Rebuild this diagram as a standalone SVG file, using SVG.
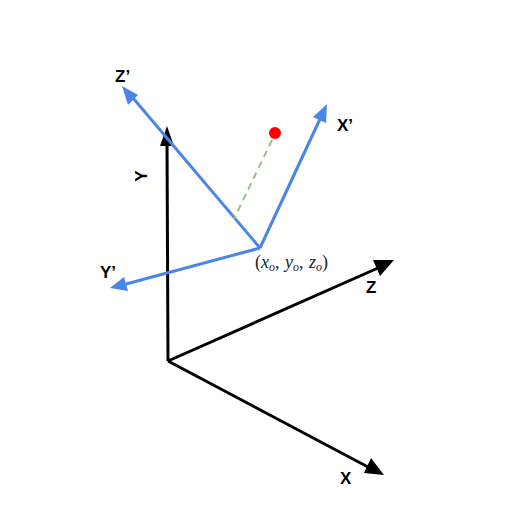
<svg xmlns="http://www.w3.org/2000/svg" width="512" height="512" viewBox="0 0 512 512">
<style>
.ax{stroke:#000;stroke-width:3;fill:none}
.bx{stroke:#4a86e8;stroke-width:3;fill:none}
.lbl{font-family:"Liberation Sans",Arial,sans-serif;font-weight:bold;font-size:17px;fill:#000}
.math{font-family:"Liberation Serif","Times New Roman",serif;font-size:18px;fill:#222}
.sub{font-size:12px;font-style:italic}
</style>
<rect width="512" height="512" fill="#fff"/>
<g id="connectors">
<line class="ax" x1="168" y1="361" x2="167" y2="140"/>
<polygon points="167,126 160,146 174,146" fill="#000"/>
<line class="ax" x1="168" y1="361" x2="378" y2="268"/>
<polygon points="394,260 373,260 380,276" fill="#000"/>
<line class="ax" x1="168" y1="361" x2="368" y2="467"/>
<polygon points="384,475 371,458 364,473" fill="#000"/>
<line class="bx" x1="260" y1="248" x2="320" y2="119"/>
<polygon points="327,104 313,117 326,123" fill="#4a86e8"/>
<line class="bx" x1="260" y1="248" x2="133" y2="98"/>
<polygon points="122,86 128,105 138,95" fill="#4a86e8"/>
<line class="bx" x1="260" y1="248" x2="126" y2="284"/>
<polygon points="110,288 128,291 124,277" fill="#4a86e8"/>
<line x1="272" y1="140" x2="234" y2="219" stroke="#93c47d" stroke-width="2" stroke-dasharray="7,5"/>
</g>
<g id="point"><circle cx="275" cy="133" r="6" fill="#ff0000"/></g>
<g id="labels">
<text class="lbl" x="115" y="82">Z’</text>
<text class="lbl" x="337" y="131">X’</text>
<text class="lbl" x="100" y="278">Y’</text>
<text class="lbl" x="366" y="293">Z</text>
<text class="lbl" x="340" y="484">X</text>
<text class="lbl" transform="translate(147,176) rotate(-90)" text-anchor="middle">Y</text>
<text class="math" x="255" y="268"><tspan>(</tspan><tspan font-style="italic">x</tspan><tspan class="sub" dy="3">o</tspan><tspan dy="-3">, </tspan><tspan font-style="italic" dx="1">y</tspan><tspan class="sub" dy="3">o</tspan><tspan dy="-3">, </tspan><tspan font-style="italic" dx="1">z</tspan><tspan class="sub" dy="3">o</tspan><tspan dy="-3">)</tspan></text>
</g>
</svg>
